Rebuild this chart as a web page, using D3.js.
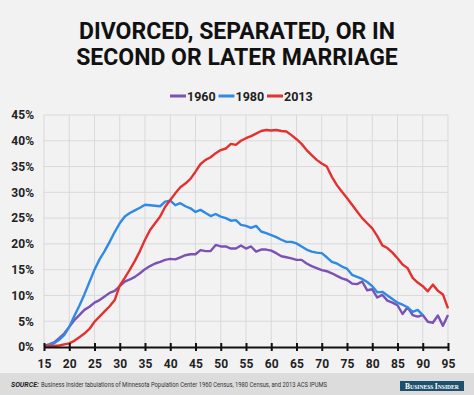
<!DOCTYPE html>
<html>
<head>
<meta charset="utf-8">
<script src="https://cdn.jsdelivr.net/npm/d3@7"></script>
<style>
	body { margin: 0; background: #f2f2f3; }
	svg { display: block; font-family: Roboto, "Liberation Sans", sans-serif; }
</style>
</head>
<body>
<div id="chart"></div>
<script>
/*
Code for the divorce / remarriage line chart
*/

// Data: share of people by age (15-95)
var ages = d3.range(15, 96);
var seriesNames = ["1960", "1980", "2013"];

var values1960 = [0.2, 0.5, 0.9, 1.7, 2.6, 3.9, 5.2, 6.2, 7.2, 7.8,
	8.6, 9.1, 9.8, 10.5, 10.9, 11.8, 12.7, 13.1, 13.6, 14.3,
	15.1, 15.7, 16.2, 16.5, 16.9, 17.1, 17.0, 17.4, 17.8, 18.0,
	18.0, 18.8, 18.6, 18.6, 19.8, 19.5, 19.5, 19.1, 19.1, 19.7,
	19.1, 19.5, 18.5, 18.9, 18.9, 18.7, 18.2, 17.6, 17.4, 17.2,
	16.9, 16.9, 16.2, 15.7, 15.3, 14.9, 14.7, 14.3, 13.8, 13.3,
	13.0, 12.3, 12.2, 12.7, 11.0, 11.2, 9.6, 10.1, 9.0, 8.6,
	8.1, 6.4, 7.7, 6.2, 5.9, 6.2, 4.9, 4.7, 6.1, 4.1, 6.2];

// 1980 series stops at age 90
var values1980 = [0.2, 0.4, 0.7, 1.4, 2.3, 3.9, 6.0, 8.0, 10.2, 12.6,
	15.0, 17.0, 18.6, 20.4, 22.3, 24.0, 25.3, 26.0, 26.5, 27.0,
	27.6, 27.5, 27.4, 27.3, 28.2, 28.4, 27.5, 27.9, 27.3, 26.9,
	26.2, 26.6, 26.0, 25.4, 25.8, 25.3, 25.0, 24.5, 24.6, 23.7,
	23.5, 23.1, 23.5, 22.4, 22.1, 21.7, 21.3, 20.8, 20.4, 20.4,
	20.1, 19.5, 18.9, 18.5, 18.3, 18.2, 17.4, 16.5, 16.2, 15.6,
	15.2, 14.0, 13.6, 13.2, 12.6, 11.8, 10.6, 10.7, 10.0, 9.3,
	8.6, 8.2, 7.7, 6.8, 7.2, 6.2, null, null, null, null, null];

var values2013 = [0.2, 0.2, 0.2, 0.3, 0.5, 0.7, 1.2, 1.9, 2.6, 3.5,
	4.9, 5.9, 6.9, 7.9, 9.1, 11.9, 13.4, 15.0, 16.7, 18.6,
	20.8, 22.7, 24.0, 25.3, 27.2, 28.5, 29.8, 31.0, 31.7, 32.6,
	34.0, 35.5, 36.3, 36.8, 37.6, 38.2, 38.5, 39.4, 39.2, 40.0,
	40.5, 40.9, 41.4, 41.9, 42.1, 42.0, 42.1, 41.9, 41.8, 41.1,
	40.3, 39.4, 38.2, 37.2, 36.3, 35.6, 35.0, 33.0, 31.4, 30.1,
	28.9, 27.6, 26.3, 25.0, 24.0, 23.0, 21.5, 19.7, 19.2, 18.3,
	17.2, 16.0, 15.3, 13.4, 12.5, 11.8, 10.8, 12.1, 10.9, 10.2, 7.5];

var xTicks = d3.range(15, 96, 5);
var yTicks = d3.range(0, 46, 5);

var titleLines = ["DIVORCED, SEPARATED, OR IN", "SECOND OR LATER MARRIAGE"];
var sourceText = "Business Insider tabulations of Minnesota Population Center 1960 Census, 1980 Census, and 2013 ACS IPUMS";

// Defining line-chart class
class LineChart{

	// Constructor
	constructor(_parentElement){
		this.parentElement = _parentElement;

		this.initializeChart();
	}

	// Initialize chart
	initializeChart(){
		var vis = this;

		vis.width = 474;
		vis.height = 395;
		vis.margin = {top: 115, right: 26, bottom: 48, left: 44};
		vis.colors = d3.scaleOrdinal()
			.domain(seriesNames)
			.range(["#7b52b4", "#2f8ae6", "#e2312f"]);

		vis.svg = d3.select(vis.parentElement).append("svg")
			.attr("width", vis.width)
			.attr("height", vis.height);

		vis.svg.append("rect")
			.attr("width", vis.width)
			.attr("height", vis.height)
			.attr("fill", "#f2f2f3");

		// Title
		vis.svg.selectAll(".title")
			.data(titleLines)
			.enter().append("text")
			.attr("class", "title")
			.attr("x", vis.width / 2)
			.attr("y", (d, i) => 39 + i * 26)
			.attr("text-anchor", "middle")
			.attr("font-size", 23)
			.attr("font-weight", "bold")
			.attr("fill", "#111")
			.text(d => d);

		// Scales
		vis.x = d3.scaleLinear()
			.domain([15, 95])
			.range([vis.margin.left, vis.width - vis.margin.right]);

		vis.y = d3.scaleLinear()
			.domain([0, 45])
			.range([vis.height - vis.margin.bottom, vis.margin.top]);

		vis.series = seriesNames.map((name, i) => ({
			name: name,
			values: [values1960, values1980, values2013][i]
		}));

		vis.drawGrid();
		vis.drawLines();
		vis.drawAxes();
		vis.drawLegend();
		vis.drawFooter();
	}

	// Grid lines
	drawGrid(){
		var vis = this;

		vis.svg.append("g")
			.selectAll("line")
			.data(yTicks.slice(1))
			.enter().append("line")
			.attr("x1", vis.x(15))
			.attr("x2", vis.x(95))
			.attr("y1", d => vis.y(d))
			.attr("y2", d => vis.y(d))
			.attr("stroke", "#d9d9db")
			.attr("stroke-width", 1);

		vis.svg.append("g")
			.selectAll("line")
			.data(xTicks)
			.enter().append("line")
			.attr("x1", d => vis.x(d))
			.attr("x2", d => vis.x(d))
			.attr("y1", vis.y(0))
			.attr("y2", vis.y(45))
			.attr("stroke", "#d9d9db")
			.attr("stroke-width", 1);
	}

	// Data lines
	drawLines(){
		var vis = this;

		vis.line = d3.line()
			.defined(d => d != null)
			.x((d, i) => vis.x(ages[i]))
			.y(d => vis.y(d));

		vis.svg.append("g")
			.selectAll("path")
			.data(vis.series)
			.enter().append("path")
			.attr("fill", "none")
			.attr("stroke", d => vis.colors(d.name))
			.attr("stroke-width", 2.4)
			.attr("stroke-linejoin", "round")
			.attr("d", d => vis.line(d.values));
	}

	// Axes
	drawAxes(){
		var vis = this;

		var xAxis = vis.svg.append("g")
			.attr("transform", "translate(0," + vis.y(0) + ")")
			.call(d3.axisBottom(vis.x).tickValues(xTicks).tickSize(0).tickPadding(12));

		xAxis.select(".domain")
			.attr("stroke", "#111")
			.attr("stroke-width", 2);

		xAxis.selectAll(".tick").append("line")
			.attr("y1", -4)
			.attr("y2", 4)
			.attr("stroke", "#111")
			.attr("stroke-width", 2);

		xAxis.selectAll("text")
			.attr("font-size", 12)
			.attr("font-weight", "bold")
			.attr("font-family", "Roboto, sans-serif")
			.attr("fill", "#222");

		var yAxis = vis.svg.append("g")
			.attr("transform", "translate(" + vis.x(15) + ",0)")
			.call(d3.axisLeft(vis.y).tickValues(yTicks).tickSize(0).tickPadding(10).tickFormat(d => d + "%"));

		yAxis.select(".domain").remove();

		yAxis.selectAll("text")
			.attr("font-size", 12)
			.attr("font-weight", "bold")
			.attr("font-family", "Roboto, sans-serif")
			.attr("fill", "#222");
	}

	// Legend
	drawLegend(){
		var vis = this;

		var legend = vis.svg.selectAll(".legend")
			.data(seriesNames)
			.enter().append("g")
			.attr("class", "legend")
			.attr("transform", (d, i) => "translate(" + (170 + i * 48.5) + ",96)");

		legend.append("line")
			.attr("x1", 0)
			.attr("x2", 16)
			.attr("stroke", d => vis.colors(d))
			.attr("stroke-width", 3);

		legend.append("text")
			.attr("x", 17)
			.attr("y", 4.5)
			.attr("font-size", 12.5)
			.attr("font-weight", "bold")
			.attr("fill", "#222")
			.text(d => d);
	}

	// Footer with source and logo
	drawFooter(){
		var vis = this;

		vis.svg.append("rect")
			.attr("y", 373)
			.attr("width", vis.width)
			.attr("height", 22)
			.attr("fill", "#dcdcdd");

		vis.svg.append("text")
			.attr("x", 11)
			.attr("y", 387)
			.attr("font-size", 7)
			.attr("font-weight", "bold")
			.attr("font-style", "italic")
			.attr("fill", "#222")
			.text("SOURCE:");

		vis.svg.append("text")
			.attr("x", 41)
			.attr("y", 387)
			.attr("font-size", 7)
			.attr("fill", "#333")
			.attr("textLength", 286)
			.attr("lengthAdjust", "spacingAndGlyphs")
			.text(sourceText);

		vis.svg.append("rect")
			.attr("x", 400)
			.attr("y", 381)
			.attr("width", 64)
			.attr("height", 10)
			.attr("fill", "#1d4f6e");

		var logo = vis.svg.append("text")
			.attr("x", 432)
			.attr("y", 388.8)
			.attr("text-anchor", "middle")
			.attr("font-family", "'Liberation Serif', 'DejaVu Serif', serif")
			.attr("font-weight", "bold")
			.attr("fill", "#fff");

		[["B", 7.5], ["USINESS ", 5.6], ["I", 7.5], ["NSIDER", 5.6]].forEach(p => {
			logo.append("tspan")
				.attr("font-size", p[1])
				.text(p[0]);
		});
	}
}

new LineChart("#chart");
</script>
</body>
</html>
